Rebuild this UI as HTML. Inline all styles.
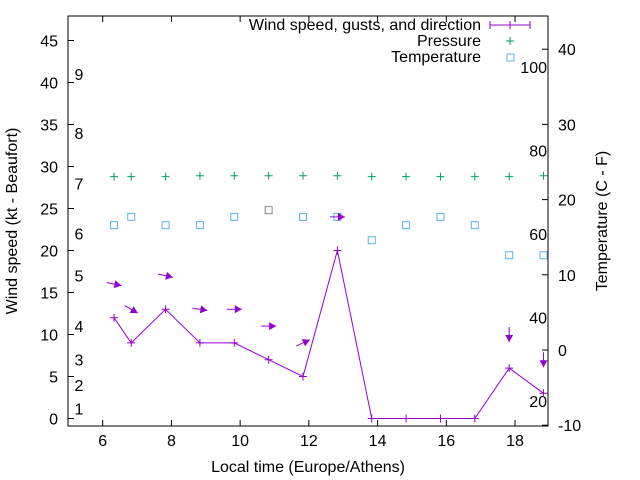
<!DOCTYPE html>
<html><head><meta charset="utf-8"><style>
body{margin:0;background:#fff}
svg{display:block;font-family:"Liberation Sans",sans-serif}
</style></head><body>
<svg id="c" width="640" height="480" viewBox="0 0 640 480">
<rect x="0" y="0" width="640" height="480" fill="#fff"/>
<g id="axes"></g><g id="marks"></g>
<text x="308" y="472" font-size="16" text-anchor="middle">Local time (Europe/Athens)</text>
<text transform="translate(17,221) rotate(-90)" font-size="16" text-anchor="middle">Wind speed (kt - Beaufort)</text>
<text transform="translate(607,221) rotate(-90)" font-size="16" text-anchor="middle">Temperature (C - F)</text>
<g font-size="16" text-anchor="end">
<text x="481" y="30">Wind speed, gusts, and direction</text>
<line x1="490" y1="25" x2="530" y2="25" stroke="#9400d3"/><line x1="490" y1="21" x2="490" y2="29" stroke="#9400d3"/><line x1="530" y1="21" x2="530" y2="29" stroke="#9400d3"/><line x1="510" y1="21" x2="510" y2="29" stroke="#9400d3"/>
<text x="481" y="46">Pressure</text>
<path d="M506,41H514M510,37V45" stroke="#009e73"/>
<text x="481" y="62">Temperature</text>
<rect x="507" y="54" width="7" height="7" fill="none" stroke="#56b4e9"/>
</g>
</svg>
<script>
const times=[6.33,6.83,7.83,8.83,9.83,10.83,11.83,12.83,13.83,14.83,15.83,16.83,17.83,18.83];
const wind=[12,9,13,9,9,7,5,20,0,0,0,0,6,3];
const pressure=[28.8,28.8,28.8,28.9,28.9,28.9,28.9,28.9,28.8,28.8,28.8,28.8,28.8,28.9];
const temp=[16.6,17.7,16.6,16.6,17.7,18.6,17.7,17.7,14.6,16.6,17.7,16.6,12.6,12.6];
const arrowTimes=[6.33,6.83,7.83,8.83,9.83,10.83,11.83,12.83,17.83,18.83];
const arrowLevel=[16,13,17,13,13,11,9,24,10,7];
const arrowAngle=[12,30,12,8,0,0,-25,0,90,90];
const beaufortLabels=["1","2","3","4","5","6","7","8","9"];
const beaufortKt=[1.2,4,7,11,17,22,28,34,41];
const fLabels=["20","40","60","80","100"];
const xTicks=[6,8,10,12,14,16,18];
const yTicks=[0,5,10,15,20,25,30,35,40,45];
const y2Ticks=[-10,0,10,20,30,40];
const L=68,R=548,T=16,B=426;
const X=t=>102.7+(t-6)*34.36;
const Y=v=>418.5-v*8.4;
const Y2=c=>350-c*7.52;
const ns="http://www.w3.org/2000/svg";
const ax=document.getElementById('axes'),mk=document.getElementById('marks');
function el(p,tag,a,txt){const e=document.createElementNS(ns,tag);for(const k in a)e.setAttribute(k,a[k]);if(txt!==undefined)e.textContent=txt;p.appendChild(e);return e;}
let fr=el(ax,'rect',{x:L,y:T,width:R-L,height:B-T,fill:'none',stroke:'#000'});


xTicks.forEach(t=>{const x=X(t);el(ax,'line',{x1:x,y1:B,x2:x,y2:B-6,stroke:'#000'});el(ax,'line',{x1:x,y1:T,x2:x,y2:T+6,stroke:'#000'});
const e=el(ax,'text',{x:x,y:B+20,'font-size':16,'text-anchor':'middle'},t);

});
yTicks.forEach(v=>{const y=Y(v);el(ax,'line',{x1:L,y1:y,x2:L+6,y2:y,stroke:'#000'});
const e=el(ax,'text',{x:L-10,y:y+6,'font-size':16,'text-anchor':'end'},v);

});
y2Ticks.forEach(v=>{const y=Y2(v);el(ax,'line',{x1:R,y1:y,x2:R-6,y2:y,stroke:'#000'});
const e=el(ax,'text',{x:R+10,y:y+6,'font-size':16},v);

});
beaufortLabels.forEach((s,i)=>{const e=el(ax,'text',{x:79,y:Y(beaufortKt[i])+6,'font-size':16,'text-anchor':'middle'},s);

});
fLabels.forEach(s=>{const c=(parseFloat(s)-32)*5/9;const e=el(ax,'text',{x:547,y:Y2(c)+7,'font-size':16,'text-anchor':'end'},s);

});
let pts=times.map((t,i)=>X(t)+','+Y(wind[i])).join(' ');
const pl=el(mk,'polyline',{points:pts,fill:'none',stroke:'#9400d3'});


times.forEach((t,i)=>{const x=X(t),y=Y(wind[i]);
const g=el(mk,'path',{d:`M${x-4},${y}H${x+4}M${x},${y-4}V${y+4}`,stroke:'#9400d3'});


const py=Y(pressure[i]);
const p=el(mk,'path',{d:`M${x-4},${py}H${x+4}M${x},${py-4}V${py+4}`,stroke:'#009e73'});


const ty=Y2(temp[i]);
const s=el(mk,'rect',{x:x-3.5,y:ty-3.5,width:7,height:7,fill:'none',stroke:i==5?'#888':'#56b4e9'});

});
arrowTimes.forEach((t,i)=>{const cx=X(t),cy=Y(arrowLevel[i]);const a=arrowAngle[i]*Math.PI/180;const dx=Math.cos(a)*7.5,dy=Math.sin(a)*7.5;
const hx=cx+dx,hy=cy+dy,ux=Math.cos(a),uy=Math.sin(a);
const g=el(mk,'g',{});


el(g,'line',{x1:cx-dx,y1:cy-dy,x2:hx,y2:hy,stroke:'#9400d3'});
el(g,'polygon',{points:`${hx},${hy} ${hx-7*ux-4*uy},${hy-7*uy+4*ux} ${hx-7*ux+4*uy},${hy-7*uy-4*ux}`,fill:'#9400d3'});});
</script>
</body></html>
